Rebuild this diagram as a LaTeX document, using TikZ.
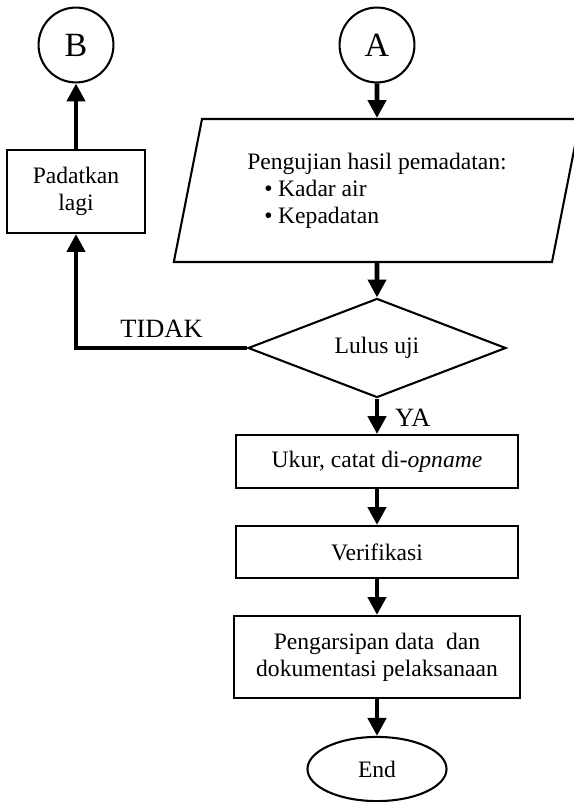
\documentclass[tikz,border=0pt]{standalone}
\usepackage{fontspec}
\setmainfont{Liberation Serif}
\usetikzlibrary{arrows.meta,shapes.geometric}

\begin{document}
\begin{tikzpicture}[x=0.53pt, y=-0.53pt, font=\fontsize{12.5}{14.3}\selectfont,
  flow/.style={line width=2.6pt, -{Triangle[length=9.5pt,width=9.5pt]}},
  box/.style={draw, line width=1.1pt, rectangle, align=center, inner sep=2pt},
  conn/.style={draw, circle, line width=1.1pt, minimum size=39.7pt, inner sep=0pt, font=\fontsize{18}{20}\selectfont},
  lbl/.style={font=\fontsize{14}{16}\selectfont}]
  \useasboundingbox (0,0) rectangle (574,802);
  % connectors
  \node[conn] (B) at (76,45) {B};
  \node[conn] (A) at (377,45) {A};
  % input / decision
  \node[draw, line width=1.1pt, trapezium, trapezium left angle=76, trapezium right angle=104,
        trapezium stretches=true, minimum width=215.7pt, minimum height=75.8pt, align=left]
        (uji) at (377,190.5) {Pengujian hasil pemadatan:\\
        \hspace*{9pt}\textbullet\hspace{3pt}Kadar air\\
        \hspace*{9pt}\textbullet\hspace{3pt}Kepadatan};
  \node[draw, line width=1.1pt, diamond, shape aspect=2.6, inner sep=0pt,
        minimum width=136.7pt, minimum height=52.5pt] (lulus) at (377,348) {Lulus uji};
  % process boxes
  \node[box, minimum width=73.1pt, minimum height=44pt] (padat) at (76,191.5) {Padatkan\\lagi};
  \node[box, minimum width=149pt, minimum height=28pt] (ukur) at (377,461.5) {Ukur, catat di-\textit{opname}};
  \node[box, minimum width=149pt, minimum height=27.6pt] (verif) at (377,552) {Verifikasi};
  \node[box, minimum width=152pt, minimum height=43.5pt] (arsip) at (377,657) {Pengarsipan data\ \ dan\\dokumentasi pelaksanaan};
  \node[draw, line width=1.1pt, ellipse, minimum width=73.7pt, minimum height=34pt] (end) at (377,769) {End};
  % arrows
  \draw[flow] (A.south) -- (uji.north);
  \draw[flow] (uji.south) -- (lulus.north);
  \draw[flow] (lulus.south) -- node[lbl, right, xshift=5pt, yshift=-1pt] {YA} (ukur.north);
  \draw[flow] (lulus.west) -| node[lbl, pos=0.25, above, yshift=1pt] {TIDAK} (padat.south);
  \draw[flow] (padat.north) -- (B.south);
  \foreach \a/\b in {ukur/verif, verif/arsip, arsip/end}
    \draw[flow] (\a.south) -- (\b.north);
\end{tikzpicture}
\end{document}
